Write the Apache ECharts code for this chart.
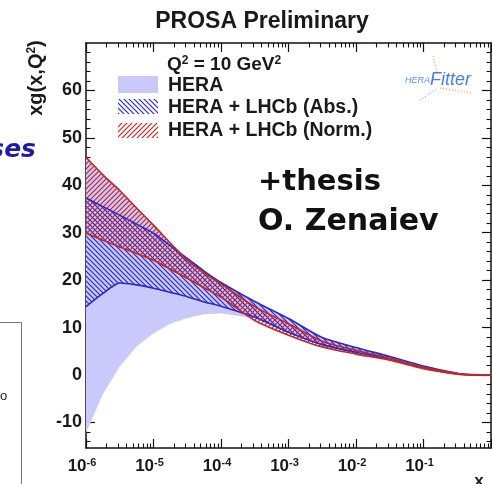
<!DOCTYPE html>
<html><head><meta charset="utf-8">
<script src="https://cdn.jsdelivr.net/npm/echarts@6/dist/echarts.min.js"></script>
<style>html,body{margin:0;padding:0;background:#fff}#c{width:492px;height:484px}</style>
</head><body><div id="c"></div>
<script>
// ---- data (x, and band edges of xg(x,Q^2) at Q^2 = 10 GeV^2) ----
const xValues = [1e-6, 1.78e-6, 3.16e-6, 5.62e-6, 1e-5, 1.78e-5, 3.16e-5, 5.62e-5, 1e-4, 3.16e-4, 1e-3, 3.16e-3, 1e-2, 3.16e-2, 0.1, 0.316, 0.5, 1];
const heraLow  = [-12.2, -4.0, 1.8, 6.0, 8.8, 10.8, 12.0, 12.8, 13.0, 11.9, 8.8, 6.1, 4.5, 3.2, 1.4, 0.2, 0.03, 0];
const heraHigh = [45.9, 42.2, 38.9, 35.2, 31.6, 27.8, 24.6, 21.9, 19.5, 15.5, 11.9, 7.9, 5.8, 3.9, 1.9, 0.35, 0.08, 0];
const absLow   = [14.4, 17.2, 19.4, 19.0, 18.3, 17.4, 16.5, 15.4, 14.5, 12.2, 9.0, 6.4, 4.8, 3.4, 1.5, 0.2, 0.03, 0];
const absHigh  = [37.3, 35.5, 33.7, 31.8, 29.9, 27.2, 24.6, 21.9, 19.5, 15.5, 11.9, 7.9, 5.8, 3.9, 1.9, 0.35, 0.08, 0];
const normLow  = [29.9, 28.4, 27.0, 25.6, 24.2, 22.3, 20.4, 18.4, 16.4, 11.5, 8.4, 5.9, 4.4, 3.1, 1.3, 0.15, 0.02, 0];
const normHigh = [45.9, 42.2, 38.9, 35.2, 31.6, 27.8, 24.2, 21.5, 19.2, 14.4, 10.8, 7.1, 5.2, 3.5, 1.6, 0.3, 0.06, 0];

const xMajor = [1e-6, 1e-5, 1e-4, 1e-3, 1e-2, 1e-1, 1];
const xExponents = ['-6', '-5', '-4', '-3', '-2', '-1', ''];
const yMajor = [-10, 0, 10, 20, 30, 40, 50, 60];
const yMinor = [-14, -12, -8, -6, -4, -2, 2, 4, 6, 8, 12, 14, 16, 18, 22, 24, 26, 28, 32, 34, 36, 38, 42, 44, 46, 48, 52, 54, 56, 58, 62, 64, 66, 68];
const legendLabels = ['HERA', 'HERA + LHCb (Abs.)', 'HERA + LHCb (Norm.)'];

const xMinor = [];
for (let d = -6; d < 0; d++) for (let k = 2; k <= 9; k++) xMinor.push(k * Math.pow(10, d));

const HERA_FILL = '#c9c9fb';
const BLUE = '#2a2ac4';
const RED = '#c42626';

function hatch(color, dir) {
  const s = 5;
  const c = document.createElement('canvas'); c.width = s; c.height = s;
  const g = c.getContext('2d');
  g.strokeStyle = color; g.lineWidth = 1.2; g.lineCap = 'square';
  g.beginPath();
  if (dir === 'back') {
    g.moveTo(-1, -1); g.lineTo(s + 1, s + 1);
    g.moveTo(-1, s - 1); g.lineTo(1, s + 1);
    g.moveTo(s - 1, -1); g.lineTo(s + 1, 1);
  } else {
    g.moveTo(-1, s + 1); g.lineTo(s + 1, -1);
    g.moveTo(-1, 1); g.lineTo(1, -1);
    g.moveTo(s - 1, s + 1); g.lineTo(s + 1, s - 1);
  }
  g.stroke();
  return { image: c, repeat: 'repeat' };
}
const blueHatch = hatch(BLUE, 'back');
const redHatch = hatch(RED, 'fwd');

function band(name, lo, hi, fill, z) {
  return {
    type: 'custom', name, z, silent: true, clip: true,
    coordinateSystem: 'cartesian2d', xAxisIndex: 0, yAxisIndex: 0,
    data: [[xValues[0], lo[0]]],
    renderItem: (params, api) => {
      const pts = [];
      for (let i = 0; i < xValues.length; i++) pts.push(api.coord([xValues[i], hi[i]]));
      for (let i = xValues.length - 1; i >= 0; i--) pts.push(api.coord([xValues[i], lo[i]]));
      return { type: 'polygon', shape: { points: pts }, style: { fill, stroke: null } };
    }
  };
}
function edge(vals, color, z) {
  return {
    type: 'line', z, silent: true, symbol: 'none', smooth: 0.25, xAxisIndex: 0, yAxisIndex: 0,
    data: xValues.map((x, i) => [x, vals[i]]),
    lineStyle: { color, width: 1.6 }
  };
}

const axisLineStyle = { color: '#111', width: 1.5 };
const FONT = 'Liberation Sans';
const SUP = { fontFamily: FONT, fontWeight: 'bold', fontSize: 12, fill: '#1a1a1a', verticalAlign: 'top', padding: [0, 0, 8, 0] };

const chart = echarts.init(document.getElementById('c'), null, { renderer: 'canvas' });
chart.setOption({
  animation: false,
  backgroundColor: '#fff',
  grid: { left: 86, right: 1, top: 43, bottom: 36, containLabel: false },
  xAxis: [
    { type: 'log', logBase: 10, min: 1e-6, max: 1, position: 'bottom',
      axisLine: { show: true, onZero: false, lineStyle: axisLineStyle },
      axisTick: { show: true, inside: true, length: 9, lineStyle: { color: '#111', width: 1.2 }, customValues: xMajor },
      axisLabel: { show: true, customValues: xMajor.slice(0, 6), margin: 9,
        formatter: (v) => { const i = xMajor.findIndex(t => Math.abs(Math.log10(t) - Math.log10(v)) < 1e-6); return i >= 0 && xExponents[i] !== '' ? '{b|10}{s|' + xExponents[i] + '}' : ''; },
        rich: { b: { fontFamily: FONT, fontWeight: 'bold', fontSize: 17, color: '#1a1a1a' },
                s: { fontFamily: FONT, fontWeight: 'bold', fontSize: 11, color: '#1a1a1a', verticalAlign: 'top', padding: [0, 8, 8, 0] } } },
      splitLine: { show: false } },
    { type: 'log', logBase: 10, min: 1e-6, max: 1, position: 'top',
      axisLine: { show: true, onZero: false, lineStyle: axisLineStyle },
      axisTick: { show: true, inside: true, length: 9, lineStyle: { color: '#111', width: 1.2 }, customValues: xMajor },
      axisLabel: { show: false }, splitLine: { show: false } },
    { type: 'log', logBase: 10, min: 1e-6, max: 1, position: 'bottom',
      axisLine: { show: false, onZero: false },
      axisTick: { show: true, inside: true, length: 4.5, lineStyle: { color: '#111', width: 1.1 }, customValues: xMinor },
      axisLabel: { show: false }, splitLine: { show: false } },
    { type: 'log', logBase: 10, min: 1e-6, max: 1, position: 'top',
      axisLine: { show: false, onZero: false },
      axisTick: { show: true, inside: true, length: 4.5, lineStyle: { color: '#111', width: 1.1 }, customValues: xMinor },
      axisLabel: { show: false }, splitLine: { show: false } }
  ],
  yAxis: [
    { type: 'value', min: -15.4, max: 70, position: 'left',
      axisLine: { show: true, onZero: false, lineStyle: axisLineStyle },
      axisTick: { show: true, inside: true, length: 9, lineStyle: { color: '#111', width: 1.2 }, customValues: yMajor },
      axisLabel: { show: true, customValues: yMajor, margin: 4, fontFamily: FONT, fontWeight: 'bold', fontSize: 18, color: '#1a1a1a' },
      splitLine: { show: false } },
    { type: 'value', min: -15.4, max: 70, position: 'right',
      axisLine: { show: true, onZero: false, lineStyle: axisLineStyle },
      axisTick: { show: true, inside: true, length: 9, lineStyle: { color: '#111', width: 1.2 }, customValues: yMajor },
      axisLabel: { show: false }, splitLine: { show: false } },
    { type: 'value', min: -15.4, max: 70, position: 'left',
      axisLine: { show: false, onZero: false },
      axisTick: { show: true, inside: true, length: 4.5, lineStyle: { color: '#111', width: 1.1 }, customValues: yMinor },
      axisLabel: { show: false }, splitLine: { show: false } },
    { type: 'value', min: -15.4, max: 70, position: 'right',
      axisLine: { show: false, onZero: false },
      axisTick: { show: true, inside: true, length: 4.5, lineStyle: { color: '#111', width: 1.1 }, customValues: yMinor },
      axisLabel: { show: false }, splitLine: { show: false } }
  ],
  series: [
    band('HERA', heraLow, heraHigh, HERA_FILL, 1),
    band('HERA + LHCb (Abs.)', absLow, absHigh, blueHatch, 2),
    band('HERA + LHCb (Norm.)', normLow, normHigh, redHatch, 3),
    edge(absLow, BLUE, 4), edge(absHigh, BLUE, 4),
    edge(normLow, RED, 5), edge(normHigh, RED, 5)
  ],
  graphic: [
    { type: 'text', x: 262, y: 22, style: { text: 'PROSA Preliminary', align: 'center', verticalAlign: 'middle', fontFamily: FONT, fontWeight: 'bold', fontSize: 23, fill: '#1a1a1a' }, z: 10 },
    { type: 'text', x: 36, y: 78, rotation: Math.PI / 2, style: { text: 'xg(x,Q{sup|2})', align: 'center', verticalAlign: 'middle', fontFamily: FONT, fontWeight: 'bold', fontSize: 20, fill: '#1a1a1a',
        rich: { sup: SUP } }, z: 10 },
    { type: 'text', x: 479, y: 481, style: { text: 'x', align: 'center', verticalAlign: 'middle', fontFamily: FONT, fontWeight: 'bold', fontSize: 17, fill: '#1a1a1a' }, z: 10 },
    // legend
    { type: 'text', x: 167, y: 65, style: { text: 'Q{sup|2} = 10 GeV{sup|2}', verticalAlign: 'middle', fontFamily: FONT, fontWeight: 'bold', fontSize: 19, fill: '#1a1a1a',
        rich: { sup: SUP } }, z: 10 },
    { type: 'rect', shape: { x: 118, y: 76, width: 40, height: 17 }, style: { fill: HERA_FILL }, z: 10 },
    { type: 'rect', shape: { x: 118, y: 99, width: 40, height: 15 }, style: { fill: blueHatch }, z: 10 },
    { type: 'rect', shape: { x: 118, y: 123, width: 40, height: 15 }, style: { fill: redHatch }, z: 10 },
    { type: 'text', x: 168, y: 86, style: { text: legendLabels[0], verticalAlign: 'middle', fontFamily: FONT, fontWeight: 'bold', fontSize: 19.5, fill: '#1a1a1a' }, z: 10 },
    { type: 'text', x: 168, y: 108, style: { text: legendLabels[1], verticalAlign: 'middle', fontFamily: FONT, fontWeight: 'bold', fontSize: 19.5, fill: '#1a1a1a' }, z: 10 },
    { type: 'text', x: 168, y: 131, style: { text: legendLabels[2], verticalAlign: 'middle', fontFamily: FONT, fontWeight: 'bold', fontSize: 19.5, fill: '#1a1a1a' }, z: 10 },
    // HERAFitter logo
    { type: 'text', x: 405, y: 80, style: { text: '{a|HERA}{b|Fitter}', verticalAlign: 'middle',
        rich: { a: { fontFamily: FONT, fontStyle: 'italic', fontSize: 9, fill: '#5b8fe0' }, b: { fontFamily: FONT, fontStyle: 'italic', fontSize: 18, fill: '#4a80de' } } }, z: 10 },
    { type: 'line', shape: { x1: 433, y1: 56, x2: 437, y2: 72 }, style: { stroke: '#f0a040', lineWidth: 1.2, lineDash: [1, 2] }, z: 10 },
    { type: 'line', shape: { x1: 440, y1: 88, x2: 472, y2: 93 }, style: { stroke: '#f0a040', lineWidth: 1.2, lineDash: [1, 2] }, z: 10 },
    { type: 'line', shape: { x1: 420, y1: 100, x2: 437, y2: 89 }, style: { stroke: '#8ab0ee', lineWidth: 1.2, lineDash: [1, 2] }, z: 10 },
    // slide annotations
    { type: 'text', x: 258, y: 162, style: { text: '{a|+thesis}\n{b|O. Zenaiev}', verticalAlign: 'top', fill: '#111',
        rich: { a: { fontFamily: 'DejaVu Sans', fontWeight: 'bold', fontSize: 29, lineHeight: 40, fill: '#111' },
                b: { fontFamily: 'DejaVu Sans', fontWeight: 'bold', fontSize: 30, lineHeight: 40, fill: '#111' } } }, z: 10 },
    { type: 'text', x: 36, y: 150, style: { text: 'ses', align: 'right', verticalAlign: 'middle', fontFamily: 'DejaVu Sans', fontWeight: 'bold', fontStyle: 'italic', fontSize: 25, fill: '#1c1ca6' }, z: 10 },
    { type: 'polyline', shape: { points: [[0, 322.5], [21.5, 322.5], [21.5, 484]] }, style: { stroke: '#777', lineWidth: 1, fill: null }, z: 10 },
    { type: 'text', x: 0, y: 396, style: { text: 'o', align: 'left', verticalAlign: 'middle', fontFamily: FONT, fontSize: 13, fill: '#222' }, z: 10 }
  ]
});
</script>
</body></html>
